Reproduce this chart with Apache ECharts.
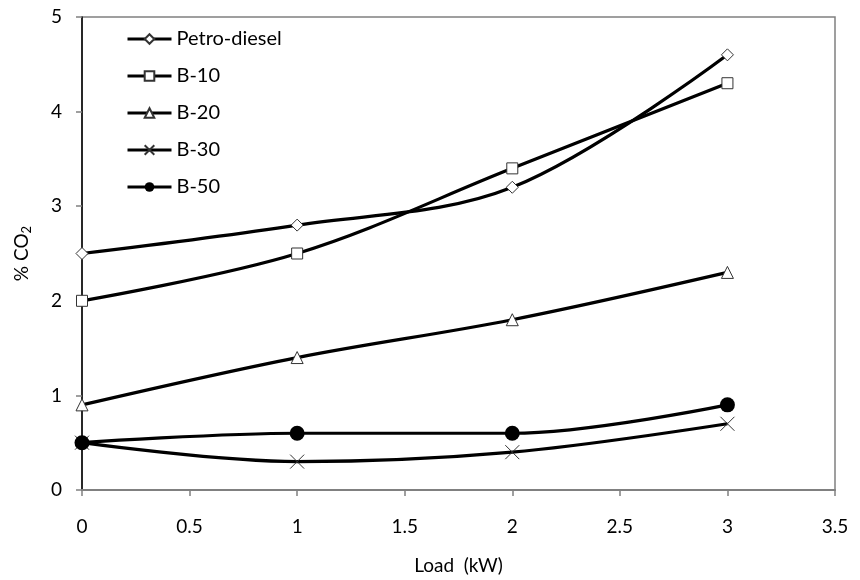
<!DOCTYPE html>
<html>
<head>
<meta charset="utf-8">
<script src="https://cdn.jsdelivr.net/npm/echarts@6/dist/echarts.min.js"></script>
<style>html,body{margin:0;padding:0;background:#fff}#c{width:860px;height:580px}</style>
</head>
<body>
<div id="c"></div>
<script>
var loads = [0, 1, 2, 3];
var petroDiesel = [2.5, 2.8, 3.2, 4.6];
var b10 = [2.0, 2.5, 3.4, 4.3];
var b20 = [0.9, 1.4, 1.8, 2.3];
var b30 = [0.5, 0.3, 0.4, 0.7];
var b50 = [0.5, 0.6, 0.6, 0.9];
var seriesNames = ['Petro-diesel', 'B-10', 'B-20', 'B-30', 'B-50'];
var xTicks = [0, 0.5, 1, 1.5, 2, 2.5, 3, 3.5];
var yTicks = [0, 1, 2, 3, 4, 5];

var FONT = 'Lato';
function pairs(ys){ return loads.map(function(x,i){ return [x, ys[i]]; }); }
var crossPath = 'path://M0,0L10,10M10,0L0,10';

function mk(name, ys, symbol, size, fill, bw){
  return {
    name: name, type: 'line', data: pairs(ys), smooth: 0.35,
    symbol: symbol, symbolSize: size,
    lineStyle: {color: '#000', width: 3.2},
    itemStyle: {color: fill, borderColor: '#333', borderWidth: bw},
    emphasis: {disabled: true}, z: 3
  };
}

var chart = echarts.init(document.getElementById('c'), null, {renderer: 'canvas'});
chart.setOption({
  animation: false,
  backgroundColor: '#fff',
  grid: {left: 82, right: 25, top: 17, bottom: 87, show: true, borderColor: '#808080', borderWidth: 1.5},
  legend: {
    orient: 'vertical', left: 121, top: 24, itemWidth: 44, itemHeight: 12, itemGap: 17,
    data: seriesNames,
    lineStyle: {width: 3, color: '#000'},
    textStyle: {fontFamily: FONT, fontSize: 20, color: '#000'}
  },
  xAxis: {
    type: 'value', min: xTicks[0], max: xTicks[xTicks.length-1], interval: 0.5,
    name: 'Load  (kW)', nameLocation: 'middle', nameGap: 66,
    nameTextStyle: {fontFamily: FONT, fontSize: 19, color: '#000'},
    axisLine: {show: true, lineStyle: {color: '#808080', width: 2}},
    axisTick: {show: true, length: 6, lineStyle: {color: '#808080', width: 1.5}},
    axisLabel: {fontFamily: FONT, fontSize: 19, color: '#000', margin: 27},
    splitLine: {show: false}
  },
  yAxis: {
    type: 'value', min: yTicks[0], max: yTicks[yTicks.length-1], interval: 1,
    name: '% CO{sub|2}', nameLocation: 'middle', nameGap: 49, nameRotate: 90,
    nameTextStyle: {fontFamily: FONT, fontSize: 19, color: '#000',
      rich: {sub: {fontFamily: FONT, fontSize: 13, color: '#000', verticalAlign: 'bottom', padding: [9,0,0,0]}}},
    axisLine: {show: true, lineStyle: {color: '#000', width: 1.5}},
    axisTick: {show: true, length: 6, lineStyle: {color: '#808080', width: 1.5}},
    axisLabel: {fontFamily: FONT, fontSize: 19, color: '#000', margin: 20},
    splitLine: {show: false}
  },
  series: [
    mk(seriesNames[0], petroDiesel, 'diamond', 12, '#fff', 1),
    mk(seriesNames[1], b10, 'rect', 11, '#fff', 1),
    mk(seriesNames[2], b20, 'triangle', 12, '#fff', 1),
    mk(seriesNames[3], b30, crossPath, 14, 'none', 1),
    mk(seriesNames[4], b50, 'circle', 15, '#000', 0)
  ]
});
</script>
</body>
</html>
